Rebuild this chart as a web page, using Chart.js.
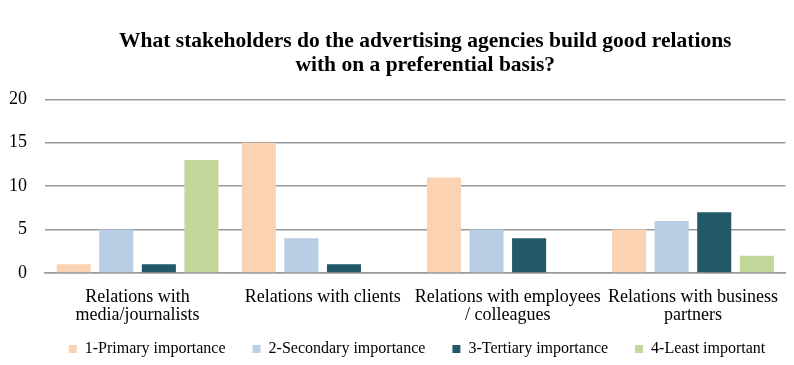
<!DOCTYPE html>
<html><head><meta charset="utf-8">
<script src="https://cdn.jsdelivr.net/npm/chart.js@4/dist/chart.umd.min.js"></script>
<style>html,body{margin:0;padding:0;background:#fff;}#wrap{width:794px;height:365px;}</style>
</head><body><div id="wrap"><canvas id="c" width="794" height="365"></canvas></div>
<script>
const categories = [["Relations with","media/journalists"],"Relations with clients",["Relations with employees","/ colleagues"],["Relations with business","partners"]];
const seriesNames = ["1-Primary importance","2-Secondary importance","3-Tertiary importance","4-Least important"];
const primary = [1, 15, 11, 5];
const secondary = [5, 4, 5, 6];
const tertiary = [1, 1, 4, 7];
const least = [13, 0, 0, 2];
const yTicks = [0, 5, 10, 15, 20];
const colors = ["#FBD3B2","#B9CDE5","#215968","#C4D79B"];
const values = [primary, secondary, tertiary, least];
const font = "'Liberation Serif', 'Times New Roman', serif";
const nudge = {
  id: 'nudge',
  afterLayout(chart) {
    const l = chart.legend;
    if (l) { l.top -= 25; l.height = l.bottom - l.top; l.left += 18; l.right += 18; }
    const t = chart.titleBlock;
    if (t) { t.left += 20; }
  }
};
new Chart(document.getElementById('c'), {
  type: 'bar',
  data: {
    labels: categories,
    datasets: seriesNames.map((n,i)=>({label:n,data:values[i],backgroundColor:colors[i],borderWidth:0,categoryPercentage:0.92,barPercentage:0.8}))
  },
  plugins: [nudge],
  options: {
    responsive:false, animation:false,
    layout:{padding:{left:6,right:2,top:0,bottom:0}},
    plugins:{
      title:{display:true,fullSize:false,text:["What stakeholders do the advertising agencies build good relations","with on a preferential basis?"],font:{family:font,size:21.5,weight:'bold',lineHeight:1.1},color:'#000',padding:{top:30,bottom:22}},
      legend:{position:'bottom',maxHeight:26,labels:{font:{family:font,size:16},color:'#000',usePointStyle:true,pointStyle:'rect',boxWidth:8,boxHeight:8,padding:27}},
      tooltip:{enabled:false}
    },
    scales:{
      x:{grid:{display:false,drawTicks:false},border:{color:'#999',width:1.5},ticks:{font:{family:font,size:18,lineHeight:1.0},color:'#000',maxRotation:0,autoSkip:false,padding:15}},
      y:{min:0,max:20,afterBuildTicks:ax=>{ax.ticks=yTicks.map(v=>({value:v}));},afterFit:s=>{s.width=39;},grid:{color:'#999',lineWidth:1.5,drawTicks:false},border:{display:false},ticks:{font:{family:font,size:18},color:'#000',padding:18}}
    }
  }
});
</script></body></html>
